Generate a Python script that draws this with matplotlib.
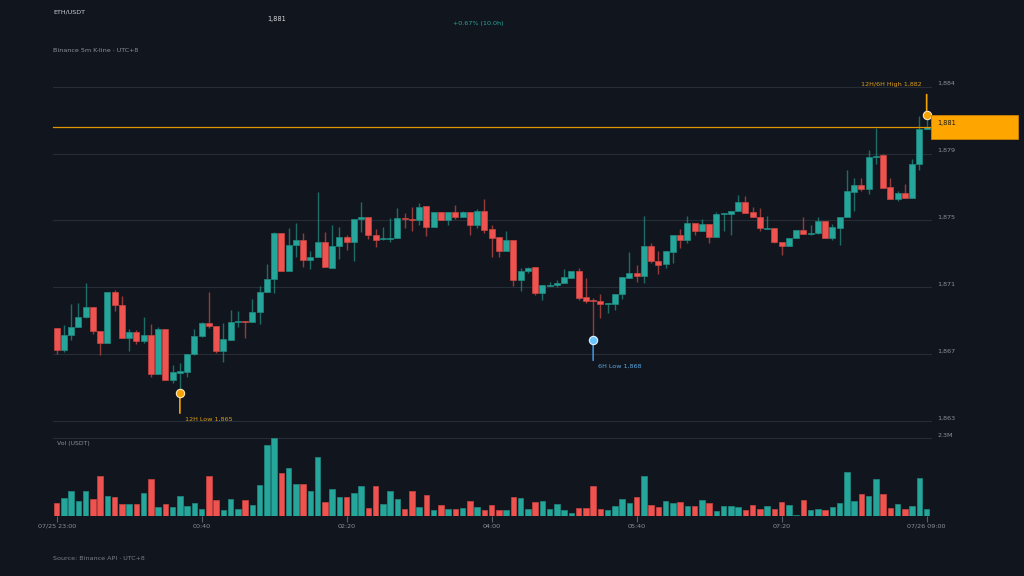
import numpy as np
import pandas as pd
import matplotlib
matplotlib.use("Agg")
import matplotlib.pyplot as plt
from matplotlib.patches import Rectangle
from matplotlib.transforms import ScaledTranslation

symbol = "ETH/USDT"
subtitle = "Binance 5m K-line · UTC+8"
source = "Source: Binance API · UTC+8"
start_time = "2023-07-25 23:00"

# 5m candles
opens = [
    1869.03, 1867.68, 1868.61, 1869.13, 1869.71, 1870.33, 1868.88, 1868.14, 1871.28, 1870.50,
    1868.45, 1868.80, 1868.24, 1868.61, 1866.18, 1868.97, 1865.80, 1866.28, 1866.30, 1867.40,
    1868.55, 1869.38, 1869.17, 1867.62, 1868.33, 1869.42, 1869.46, 1869.44, 1870.06, 1871.26,
    1872.09, 1874.92, 1872.60, 1874.20, 1874.51, 1873.24, 1873.43, 1874.38, 1872.79, 1874.13,
    1874.71, 1874.40, 1875.81, 1875.95, 1874.82, 1874.55, 1874.59, 1874.61, 1875.87, 1875.81,
    1875.75, 1876.61, 1875.33, 1876.24, 1875.73, 1876.24, 1875.91, 1876.24, 1875.46, 1876.30,
    1875.17, 1874.67, 1873.80, 1874.51, 1872.03, 1872.58, 1872.81, 1871.24, 1871.67, 1871.69,
    1871.82, 1872.17, 1872.60, 1870.95, 1870.74, 1870.74, 1870.54, 1870.56, 1871.14, 1872.17,
    1872.48, 1872.27, 1874.13, 1873.22, 1873.00, 1873.78, 1874.82, 1874.51, 1875.54, 1875.08,
    1875.50, 1874.71, 1876.10, 1876.12, 1876.30, 1876.86, 1876.22, 1875.95, 1875.21, 1875.23,
    1874.36, 1874.15, 1874.61, 1875.13, 1874.86, 1874.92, 1875.70, 1874.61, 1875.23, 1875.91,
    1877.52, 1877.90, 1877.65, 1879.67, 1879.76, 1877.81, 1877.03, 1877.40, 1877.09, 1879.20,
    1881.41,
]
highs = [
    1869.03, 1869.23, 1870.52, 1870.58, 1871.82, 1870.33, 1868.88, 1871.28, 1871.40, 1871.03,
    1868.97, 1868.92, 1869.71, 1869.30, 1869.09, 1868.97, 1866.75, 1866.86, 1867.40, 1868.99,
    1869.44, 1871.28, 1869.17, 1869.38, 1870.17, 1870.10, 1869.46, 1870.83, 1871.65, 1873.02,
    1874.98, 1874.92, 1875.23, 1875.54, 1874.92, 1873.82, 1877.46, 1874.98, 1875.44, 1875.33,
    1874.82, 1875.81, 1876.84, 1875.95, 1875.17, 1875.33, 1875.89, 1876.47, 1876.20, 1876.57,
    1876.82, 1876.61, 1876.24, 1876.24, 1876.24, 1876.68, 1876.30, 1876.24, 1876.41, 1877.03,
    1875.44, 1874.67, 1875.06, 1874.51, 1872.75, 1872.81, 1872.81, 1871.69, 1871.92, 1872.03,
    1872.71, 1872.60, 1872.75, 1872.17, 1870.89, 1871.16, 1870.62, 1871.16, 1872.19, 1873.78,
    1872.96, 1876.01, 1874.30, 1873.84, 1873.82, 1874.82, 1875.21, 1875.99, 1875.54, 1875.79,
    1875.50, 1876.22, 1876.16, 1876.30, 1877.32, 1877.26, 1876.57, 1876.51, 1875.99, 1875.23,
    1874.36, 1874.61, 1875.13, 1875.91, 1875.44, 1875.95, 1875.70, 1875.50, 1875.91, 1878.85,
    1878.39, 1878.39, 1880.09, 1881.49, 1879.84, 1878.39, 1877.54, 1877.98, 1879.53, 1882.19,
    1882.30,
]
lows = [
    1867.42, 1867.58, 1868.30, 1869.09, 1869.65, 1868.66, 1867.37, 1868.14, 1870.12, 1868.45,
    1867.64, 1868.04, 1868.14, 1866.03, 1866.18, 1865.80, 1865.66, 1865.00, 1865.99, 1867.35,
    1868.51, 1869.03, 1867.48, 1866.96, 1868.30, 1869.13, 1868.41, 1869.44, 1869.28, 1871.26,
    1871.20, 1872.60, 1872.60, 1873.47, 1872.85, 1872.71, 1873.43, 1872.81, 1872.79, 1873.33,
    1873.89, 1873.20, 1874.98, 1874.59, 1874.09, 1874.51, 1874.36, 1874.61, 1875.23, 1875.06,
    1875.44, 1874.77, 1875.33, 1875.73, 1875.44, 1875.81, 1875.91, 1874.82, 1875.27, 1874.92,
    1873.47, 1873.47, 1873.80, 1871.67, 1871.36, 1872.48, 1871.07, 1870.79, 1871.65, 1871.61,
    1871.82, 1872.17, 1870.79, 1870.62, 1868.28, 1869.65, 1870.00, 1870.17, 1870.85, 1872.17,
    1871.92, 1871.86, 1873.10, 1872.38, 1872.75, 1873.06, 1874.03, 1874.30, 1874.82, 1875.08,
    1874.30, 1874.71, 1875.08, 1874.82, 1876.30, 1876.16, 1875.91, 1875.08, 1875.19, 1874.34,
    1873.58, 1874.11, 1874.61, 1874.86, 1874.82, 1874.88, 1874.61, 1874.51, 1874.20, 1875.91,
    1876.30, 1877.54, 1877.34, 1879.20, 1877.77, 1877.05, 1876.94, 1877.09, 1877.09, 1878.85,
    1881.41,
]
closes = [
    1867.68, 1868.61, 1869.13, 1869.75, 1870.33, 1868.88, 1868.14, 1871.28, 1870.47, 1868.45,
    1868.80, 1868.24, 1868.61, 1866.18, 1868.97, 1865.80, 1866.30, 1866.32, 1867.40, 1868.55,
    1869.38, 1869.17, 1867.62, 1868.35, 1869.40, 1869.46, 1869.42, 1870.06, 1871.26, 1872.09,
    1874.92, 1872.60, 1874.20, 1874.51, 1873.24, 1873.43, 1874.38, 1872.81, 1874.13, 1874.71,
    1874.40, 1875.81, 1875.91, 1874.82, 1874.53, 1874.59, 1874.63, 1875.85, 1875.83, 1875.77,
    1876.57, 1875.33, 1876.24, 1875.73, 1876.24, 1875.91, 1876.24, 1875.46, 1876.30, 1875.13,
    1874.65, 1873.80, 1874.51, 1872.03, 1872.60, 1872.79, 1871.24, 1871.69, 1871.72, 1871.86,
    1872.19, 1872.60, 1870.93, 1870.72, 1870.70, 1870.54, 1870.58, 1871.16, 1872.19, 1872.48,
    1872.27, 1874.13, 1873.20, 1872.98, 1873.82, 1874.82, 1874.51, 1875.54, 1875.08, 1875.50,
    1874.71, 1876.10, 1876.14, 1876.30, 1876.86, 1876.16, 1875.91, 1875.23, 1875.25, 1874.36,
    1874.15, 1874.61, 1875.13, 1874.86, 1874.96, 1875.70, 1874.61, 1875.29, 1875.91, 1877.54,
    1877.90, 1877.65, 1879.67, 1879.71, 1877.77, 1877.05, 1877.40, 1877.09, 1879.22, 1881.43,
    1881.53,
]
# volume in million USDT
volumes_m = [
    0.375, 0.533, 0.750, 0.434, 0.750, 0.513, 1.184, 0.592, 0.572, 0.355,
    0.355, 0.355, 0.691, 1.105, 0.276, 0.355, 0.257, 0.592, 0.296, 0.375,
    0.197, 1.184, 0.474, 0.178, 0.494, 0.217, 0.474, 0.316, 0.928, 2.092,
    2.300, 1.283, 1.421, 0.948, 0.948, 0.750, 1.737, 0.415, 0.809, 0.572,
    0.553, 0.671, 0.888, 0.237, 0.888, 0.355, 0.730, 0.513, 0.197, 0.730,
    0.257, 0.612, 0.178, 0.316, 0.217, 0.217, 0.237, 0.434, 0.257, 0.178,
    0.336, 0.178, 0.178, 0.553, 0.533, 0.217, 0.415, 0.434, 0.197, 0.355,
    0.178, 0.079, 0.237, 0.237, 0.888, 0.217, 0.178, 0.296, 0.494, 0.375,
    0.553, 1.184, 0.336, 0.276, 0.434, 0.375, 0.415, 0.296, 0.296, 0.474,
    0.395, 0.158, 0.296, 0.296, 0.257, 0.178, 0.336, 0.217, 0.296, 0.197,
    0.415, 0.336, 0.020, 0.474, 0.178, 0.217, 0.178, 0.276, 0.395, 1.303,
    0.434, 0.651, 0.592, 1.086, 0.651, 0.237, 0.355, 0.197, 0.296, 1.125,
    0.197,
]

BG = "#11161e"
UP = "#26a69a"
DOWN = "#ef5350"
UP_EDGE = "#1f8a80"
DOWN_EDGE = "#c94542"
GRID = "#272d37"
TEXT = "#8b9099"
ORANGE = "#f5a300"
ORANGE_TXT = "#d99a1a"
BLUE = "#6cc4ff"
BLUE_TXT = "#5aa6e0"

o = np.array(opens)
h = np.array(highs)
l = np.array(lows)
c = np.array(closes)
vol = np.array(volumes_m)
n = len(c)
x = np.arange(n)
times = pd.date_range(start_time, periods=n, freq="5min")
up = c >= o
colors = np.where(up, UP, DOWN)
edges = np.where(up, UP_EDGE, DOWN_EDGE)

rng = h.max() - l.min()
ymin, ymax = l.min() - 0.1 * rng, h.max() + 0.1 * rng

W, H = 1024, 576
fig = plt.figure(figsize=(W / 100, H / 100), dpi=100, facecolor=BG)


def box(left, top, right, bottom):
    return [left / W, 1 - bottom / H, (right - left) / W, (bottom - top) / H]


ax = fig.add_axes(box(53, 86.7, 931, 421))
axv = fig.add_axes(box(53, 438.3, 931, 516), sharex=ax)
for a in (ax, axv):
    a.set_facecolor(BG)
    for sp in a.spines.values():
        sp.set_visible(False)

# price panel
yt = np.linspace(ymin, ymax, 6)
for v in yt:
    ax.axhline(v, color=GRID, lw=0.8, zorder=0, clip_on=False)
ax.vlines(x, l, h, colors=colors, lw=1.0, alpha=0.6, zorder=2)
body_h = np.maximum(np.abs(c - o), 0.07)
ax.bar(x, body_h, 0.8, bottom=np.minimum(o, c), color=colors,
       edgecolor=edges, lw=0.5, zorder=3)
ax.set_xlim(-0.5, 120.6)
ax.set_ylim(ymin, ymax)
ax.set_yticks(yt)
ax.set_yticklabels([f"{int(np.floor(v)):,}" for v in yt])
ax.yaxis.tick_right()
ax.tick_params(axis="y", length=0, pad=4.5, labelsize=4.6, labelcolor=TEXT)
ax.tick_params(axis="x", bottom=False, labelbottom=False)
lift = ScaledTranslation(0, 3.5 / 100, fig.dpi_scale_trans)
for t in ax.get_yticklabels():
    t.set_transform(t.get_transform() + lift)

# last price line
last = c[-1]
ax.axhline(last, color="#df9500", lw=0.9, zorder=4, clip_on=False)


def pin(xi, yv, fill, edge, stem, label, tcolor, up_side, tx):
    dy = 20 if up_side else -20
    ax.annotate("", xy=(xi, yv), xytext=(0, dy), textcoords="offset pixels",
                arrowprops=dict(arrowstyle="-", color=stem, lw=1.2,
                                shrinkA=0, shrinkB=0),
                annotation_clip=False, zorder=5)
    ax.plot([xi], [yv], marker="o", ms=6, mfc=fill, mec=edge, mew=0.8,
            zorder=6, clip_on=False)
    ty = 30 if up_side else -25.7
    ax.annotate(label, xy=(xi, yv), xytext=(tx, ty), textcoords="offset pixels",
                ha="right" if tx < 0 else "left", va="center", fontsize=4.6,
                color=tcolor, annotation_clip=False)


i_hi = int(np.argmax(h))
i_lo12 = int(np.argmin(l))
six = n - 72
i_lo6 = six + int(np.argmin(l[six:]))
i_hi6 = six + int(np.argmax(h[six:]))
hi_tag = "12H/6H High" if i_hi6 == i_hi else "12H High"

pin(i_hi, h[i_hi], ORANGE, "#fde9bf", ORANGE, f"{hi_tag} {int(np.floor(h[i_hi])):,}",
    ORANGE_TXT, True, -5)
pin(i_lo12, l[i_lo12], ORANGE, "#fde9bf", ORANGE, f"12H Low {int(np.floor(l[i_lo12])):,}",
    ORANGE_TXT, False, 5)
pin(i_lo6, l[i_lo6], BLUE, "#dff3ff", "#3b8ed8", f"6H Low {int(np.floor(l[i_lo6])):,}",
    BLUE_TXT, False, 4.5)

# volume panel
axv.bar(x, vol, 0.78, color=colors, edgecolor=edges, lw=0.5)
axv.set_ylim(0, vol.max())
axv.axhline(vol.max(), color=GRID, lw=0.8, clip_on=False, zorder=0)
axv.set_yticks([vol.max()])
axv.set_yticklabels([f"{vol.max():.1f}M"])
axv.yaxis.tick_right()
axv.tick_params(axis="y", length=0, pad=4.5, labelsize=4.6, labelcolor=TEXT)
for t in axv.get_yticklabels():
    t.set_transform(t.get_transform() + lift)

xt = x[::20]
xl = [times[i].strftime("%m/%d %H:%M") if i in (0, n - 1) else times[i].strftime("%H:%M")
      for i in xt]
axv.set_xticks(xt)
axv.set_xticklabels(xl)
axv.tick_params(axis="x", length=4, width=0.8, color="#5a606a", pad=1.5,
                labelsize=4.6, labelcolor=TEXT)

# right-side price tag
fig.canvas.draw()
ypx = ax.transData.transform((0, last))[1]
fig.add_artist(Rectangle((931 / W, (ypx - 12) / H), 87 / W, 24 / H,
                         transform=fig.transFigure, facecolor="#ffa500",
                         edgecolor="#c98000", lw=0.6))
fig.text(937 / W, (ypx + 3.7) / H, f"{int(np.floor(last)):,}", color="#1b1b1b",
         fontsize=4.8, va="center", ha="left")

# header / footer text
pct = (c[-1] / o[0] - 1) * 100
hours = (n - 1) * 5 / 60
fig.text(53 / W, 1 - 12.5 / H, symbol, color="#c9cdd3", fontsize=4.6, va="center")
fig.text(267 / W, 1 - 19 / H, f"{int(np.floor(last)):,}", color="#d5d8dc",
         fontsize=4.8, va="center")
fig.text(453 / W, 1 - 24 / H, f"{pct:+.2f}% ({hours:.1f}h)", color=UP,
         fontsize=4.6, va="center")
fig.text(53 / W, 1 - 50 / H, subtitle, color=TEXT, fontsize=4.6, va="center")
fig.text(57 / W, 1 - 444 / H, "Vol (USDT)", color=TEXT, fontsize=4.4, va="center")
fig.text(53 / W, 1 - 559 / H, source, color="#7a7f88", fontsize=4.6, va="center")

fig.savefig("out.png", dpi=100, facecolor=BG)
